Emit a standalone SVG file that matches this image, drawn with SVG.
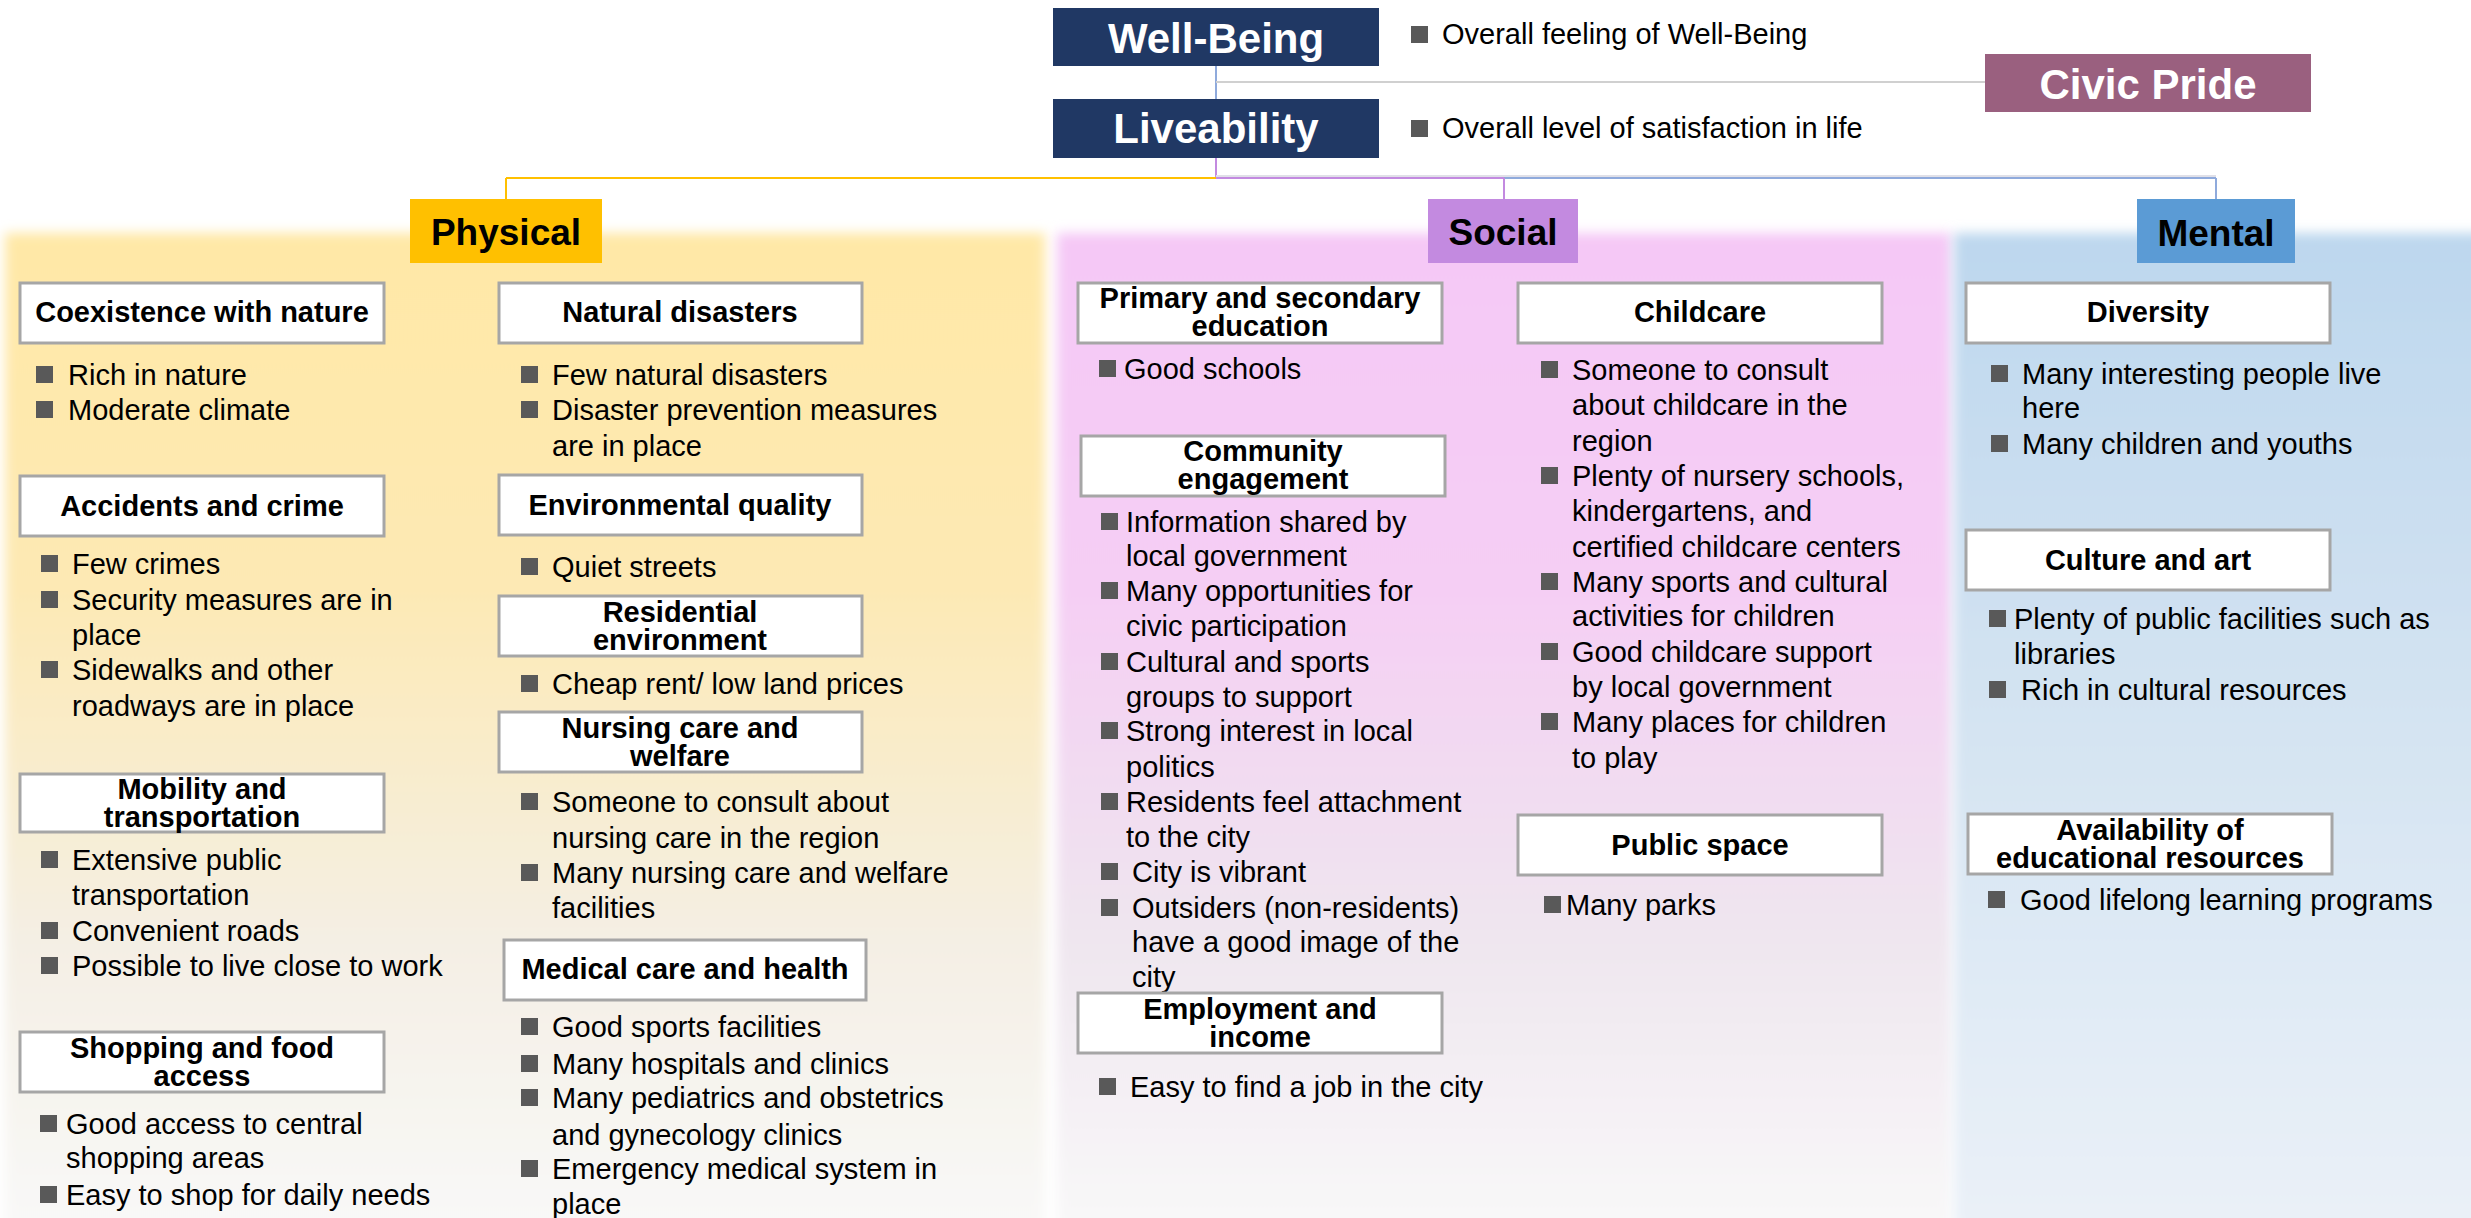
<svg xmlns="http://www.w3.org/2000/svg" xmlns:xlink="http://www.w3.org/1999/xlink" width="2471" height="1218" viewBox="0 0 2471 1218">
<style>
text{font-family:"Liberation Sans",Arial,sans-serif;font-size:29px;fill:#000}
.h{font-weight:bold;text-anchor:middle}
.top{font-weight:bold;font-size:42px;fill:#fff;text-anchor:middle}
.cat{font-weight:bold;font-size:37px;fill:#000;text-anchor:middle}
.box{fill:#fff;stroke:#a6a6a6;stroke-width:3}
.b{fill:#595959}
.ln{fill:none;stroke-width:2}
</style>
<defs>
<linearGradient id="gPhys" x1="0" y1="0" x2="0" y2="1">
<stop offset="0" stop-color="#ffe8a6"/>
<stop offset="0.35" stop-color="#fde9b4"/>
<stop offset="0.7" stop-color="#f4efe4"/>
<stop offset="1" stop-color="#f9f9f9"/>
</linearGradient>
<linearGradient id="gSoc" x1="0" y1="0" x2="0" y2="1">
<stop offset="0" stop-color="#f5c8f6"/>
<stop offset="0.35" stop-color="#f5cef4"/>
<stop offset="0.7" stop-color="#efe6ef"/>
<stop offset="1" stop-color="#f9f9f9"/>
</linearGradient>
<linearGradient id="gMen" x1="0" y1="0" x2="0" y2="1">
<stop offset="0" stop-color="#bdd7ee"/>
<stop offset="0.5" stop-color="#d5e4f2"/>
<stop offset="1" stop-color="#ebf1f8"/>
</linearGradient>
<filter id="soft" x="-0.05" y="-0.05" width="1.1" height="1.1">
<feGaussianBlur stdDeviation="6"/>
</filter>
<rect id="bul" width="17" height="17" class="b"/>
</defs>

<rect width="2471" height="1218" fill="#fff"/>

<g id="panels">
<rect x="5" y="233" width="1040" height="1010" fill="url(#gPhys)" filter="url(#soft)"/>
<rect x="1057" y="233" width="894" height="1010" fill="url(#gSoc)" filter="url(#soft)"/>
<rect x="1954" y="233" width="540" height="1010" fill="url(#gMen)" filter="url(#soft)"/>
</g>

<g id="connectors">
<line class="ln" x1="1216" y1="66" x2="1216" y2="99" stroke="#8faadc"/>
<line class="ln" x1="1216" y1="82" x2="1985" y2="82" stroke="#d0d0d0"/>
<line class="ln" x1="1216" y1="158" x2="1216" y2="178" stroke="#c38ae0"/>
<line class="ln" x1="1216" y1="176" x2="2216" y2="176" stroke="#e0e0e8"/>
<line class="ln" x1="506" y1="178" x2="1216" y2="178" stroke="#ffc000"/>
<line class="ln" x1="1216" y1="178" x2="1504" y2="178" stroke="#c38ae0"/>
<line class="ln" x1="1504" y1="178" x2="2216" y2="178" stroke="#8faadc"/>
<line class="ln" x1="506" y1="178" x2="506" y2="199" stroke="#ffc000"/>
<line class="ln" x1="1504" y1="178" x2="1504" y2="199" stroke="#c38ae0"/>
<line class="ln" x1="2216" y1="178" x2="2216" y2="199" stroke="#8faadc"/>
</g>

<g id="well-being">
<rect x="1053" y="8" width="326" height="58" fill="#203864"/>
<text class="top" x="1216" y="53">Well-Being</text>
<use xlink:href="#bul" x="1411" y="26"/>
<text x="1442" y="44">Overall feeling of Well-Being</text>
</g>

<g id="civic-pride">
<rect x="1985" y="54" width="326" height="58" fill="#9a607f"/>
<text class="top" x="2148" y="99">Civic Pride</text>
</g>

<g id="liveability">
<rect x="1053" y="99" width="326" height="59" fill="#203864"/>
<text class="top" x="1216" y="143">Liveability</text>
<use xlink:href="#bul" x="1411" y="120"/>
<text x="1442" y="138">Overall level of satisfaction in life</text>
</g>

<g id="physical">
<rect x="410" y="199" width="192" height="64" fill="#ffc000"/>
<text class="cat" x="506" y="245">Physical</text>
</g>
<g id="social">
<rect x="1428" y="199" width="150" height="64" fill="#c38ae0"/>
<text class="cat" x="1503" y="245">Social</text>
</g>
<g id="mental">
<rect x="2137" y="199" width="158" height="64" fill="#5b9bd5"/>
<text class="cat" x="2216" y="246">Mental</text>
</g>

<!-- Physical left column -->
<g id="coexistence">
<rect class="box" x="20" y="283" width="364" height="60"/>
<text class="h" x="202" y="322">Coexistence with nature</text>
<use xlink:href="#bul" x="36" y="366"/><text x="68" y="385">Rich in nature</text>
<use xlink:href="#bul" x="36" y="401"/><text x="68" y="420">Moderate climate</text>
</g>
<g id="accidents">
<rect class="box" x="20" y="476" width="364" height="60"/>
<text class="h" x="202" y="516">Accidents and crime</text>
<use xlink:href="#bul" x="41" y="555"/><text x="72" y="574">Few crimes</text>
<use xlink:href="#bul" x="41" y="591"/><text x="72" y="610">Security measures are in</text>
<text x="72" y="645">place</text>
<use xlink:href="#bul" x="41" y="661"/><text x="72" y="680">Sidewalks and other</text>
<text x="72" y="716">roadways are in place</text>
</g>
<g id="mobility">
<rect class="box" x="20" y="774" width="364" height="58"/>
<text class="h" x="202" y="799">Mobility and</text>
<text class="h" x="202" y="827">transportation</text>
<use xlink:href="#bul" x="41" y="851"/><text x="72" y="870">Extensive public</text>
<text x="72" y="905">transportation</text>
<use xlink:href="#bul" x="41" y="922"/><text x="72" y="941">Convenient roads</text>
<use xlink:href="#bul" x="41" y="957"/><text x="72" y="976">Possible to live close to work</text>
</g>
<g id="shopping">
<rect class="box" x="20" y="1032" width="364" height="60"/>
<text class="h" x="202" y="1058">Shopping and food</text>
<text class="h" x="202" y="1086">access</text>
<use xlink:href="#bul" x="40" y="1115"/><text x="66" y="1134">Good access to central</text>
<text x="66" y="1168">shopping areas</text>
<use xlink:href="#bul" x="40" y="1186"/><text x="66" y="1205">Easy to shop for daily needs</text>
</g>

<!-- Physical right column -->
<g id="natural-disasters">
<rect class="box" x="499" y="283" width="363" height="60"/>
<text class="h" x="680" y="322">Natural disasters</text>
<use xlink:href="#bul" x="521" y="366"/><text x="552" y="385">Few natural disasters</text>
<use xlink:href="#bul" x="521" y="401"/><text x="552" y="420">Disaster prevention measures</text>
<text x="552" y="456">are in place</text>
</g>
<g id="environmental-quality">
<rect class="box" x="499" y="475" width="363" height="60"/>
<text class="h" x="680" y="515">Environmental quality</text>
<use xlink:href="#bul" x="521" y="558"/><text x="552" y="577">Quiet streets</text>
</g>
<g id="residential">
<rect class="box" x="499" y="596" width="363" height="60"/>
<text class="h" x="680" y="622">Residential</text>
<text class="h" x="680" y="650">environment</text>
<use xlink:href="#bul" x="521" y="675"/><text x="552" y="694">Cheap rent/ low land prices</text>
</g>
<g id="nursing">
<rect class="box" x="499" y="712" width="363" height="60"/>
<text class="h" x="680" y="738">Nursing care and</text>
<text class="h" x="680" y="766">welfare</text>
<use xlink:href="#bul" x="521" y="793"/><text x="552" y="812">Someone to consult about</text>
<text x="552" y="848">nursing care in the region</text>
<use xlink:href="#bul" x="521" y="864"/><text x="552" y="883">Many nursing care and welfare</text>
<text x="552" y="918">facilities</text>
</g>
<g id="medical">
<rect class="box" x="504" y="940" width="362" height="60"/>
<text class="h" x="685" y="979">Medical care and health</text>
<use xlink:href="#bul" x="521" y="1018"/><text x="552" y="1037">Good sports facilities</text>
<use xlink:href="#bul" x="521" y="1055"/><text x="552" y="1074">Many hospitals and clinics</text>
<use xlink:href="#bul" x="521" y="1089"/><text x="552" y="1108">Many pediatrics and obstetrics</text>
<text x="552" y="1145">and gynecology clinics</text>
<use xlink:href="#bul" x="521" y="1160"/><text x="552" y="1179">Emergency medical system in</text>
<text x="552" y="1214">place</text>
</g>

<!-- Social left column -->
<g id="education">
<rect class="box" x="1078" y="283" width="364" height="60"/>
<text class="h" x="1260" y="308">Primary and secondary</text>
<text class="h" x="1260" y="336">education</text>
<use xlink:href="#bul" x="1099" y="360"/><text x="1124" y="379">Good schools</text>
</g>
<g id="community">
<rect class="box" x="1081" y="436" width="364" height="60"/>
<text class="h" x="1263" y="461">Community</text>
<text class="h" x="1263" y="489">engagement</text>
<use xlink:href="#bul" x="1101" y="513"/><text x="1126" y="532">Information shared by</text>
<text x="1126" y="566">local government</text>
<use xlink:href="#bul" x="1101" y="582"/><text x="1126" y="601">Many opportunities for</text>
<text x="1126" y="636">civic participation</text>
<use xlink:href="#bul" x="1101" y="653"/><text x="1126" y="672">Cultural and sports</text>
<text x="1126" y="707">groups to support</text>
<use xlink:href="#bul" x="1101" y="722"/><text x="1126" y="741">Strong interest in local</text>
<text x="1126" y="777">politics</text>
<use xlink:href="#bul" x="1101" y="793"/><text x="1126" y="812">Residents feel attachment</text>
<text x="1126" y="847">to the city</text>
<use xlink:href="#bul" x="1101" y="863"/><text x="1132" y="882">City is vibrant</text>
<use xlink:href="#bul" x="1101" y="899"/><text x="1132" y="918">Outsiders (non-residents)</text>
<text x="1132" y="952">have a good image of the</text>
<text x="1132" y="987">city</text>
</g>
<g id="employment">
<rect class="box" x="1078" y="993" width="364" height="60"/>
<text class="h" x="1260" y="1019">Employment and</text>
<text class="h" x="1260" y="1047">income</text>
<use xlink:href="#bul" x="1099" y="1078"/><text x="1130" y="1097">Easy to find a job in the city</text>
</g>

<!-- Social right column -->
<g id="childcare">
<rect class="box" x="1518" y="283" width="364" height="60"/>
<text class="h" x="1700" y="322">Childcare</text>
<use xlink:href="#bul" x="1541" y="361"/><text x="1572" y="380">Someone to consult</text>
<text x="1572" y="415">about childcare in the</text>
<text x="1572" y="451">region</text>
<use xlink:href="#bul" x="1541" y="467"/><text x="1572" y="486">Plenty of nursery schools,</text>
<text x="1572" y="521">kindergartens, and</text>
<text x="1572" y="557">certified childcare centers</text>
<use xlink:href="#bul" x="1541" y="573"/><text x="1572" y="592">Many sports and cultural</text>
<text x="1572" y="626">activities for children</text>
<use xlink:href="#bul" x="1541" y="643"/><text x="1572" y="662">Good childcare support</text>
<text x="1572" y="697">by local government</text>
<use xlink:href="#bul" x="1541" y="713"/><text x="1572" y="732">Many places for children</text>
<text x="1572" y="768">to play</text>
</g>
<g id="public-space">
<rect class="box" x="1518" y="815" width="364" height="60"/>
<text class="h" x="1700" y="855">Public space</text>
<use xlink:href="#bul" x="1544" y="896"/><text x="1566" y="915">Many parks</text>
</g>

<!-- Mental column -->
<g id="diversity">
<rect class="box" x="1966" y="283" width="364" height="60"/>
<text class="h" x="2148" y="322">Diversity</text>
<use xlink:href="#bul" x="1991" y="365"/><text x="2022" y="384">Many interesting people live</text>
<text x="2022" y="418">here</text>
<use xlink:href="#bul" x="1991" y="435"/><text x="2022" y="454">Many children and youths</text>
</g>
<g id="culture">
<rect class="box" x="1966" y="530" width="364" height="60"/>
<text class="h" x="2148" y="570">Culture and art</text>
<use xlink:href="#bul" x="1989" y="610"/><text x="2014" y="629">Plenty of public facilities such as</text>
<text x="2014" y="664">libraries</text>
<use xlink:href="#bul" x="1989" y="681"/><text x="2021" y="700">Rich in cultural resources</text>
</g>
<g id="educational-resources">
<rect class="box" x="1968" y="814" width="364" height="60"/>
<text class="h" x="2150" y="840">Availability of</text>
<text class="h" x="2150" y="868">educational resources</text>
<use xlink:href="#bul" x="1988" y="891"/><text x="2020" y="910">Good lifelong learning programs</text>
</g>
</svg>
